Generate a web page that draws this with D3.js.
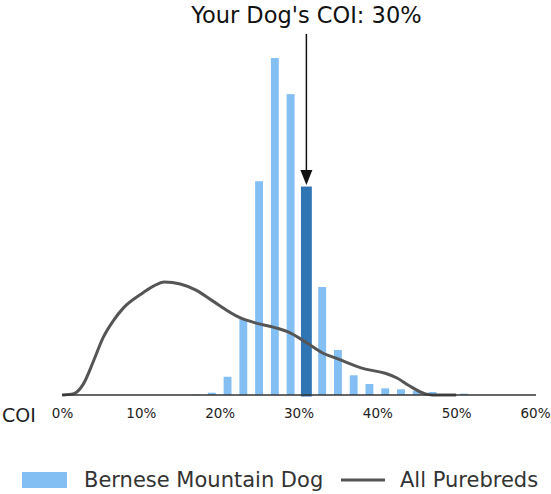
<!DOCTYPE html>
<html>
<head>
<meta charset="utf-8">
<script src="https://cdn.jsdelivr.net/npm/d3@7"></script>
<style>
  body { margin: 0; background: #fff; }
  text { font-family: "DejaVu Sans", sans-serif; }
</style>
</head>
<body>
<div id="chart"></div>
<script>
// bins are 2% wide, value = share of Bernese Mountain Dogs (%)
var binCenters = [17, 19, 21, 23, 25, 27, 29, 31, 33, 35, 37, 39, 41, 43, 45, 47, 49, 51];
var berneseShare = [0.04, 0.17, 1.34, 5.58, 15.7, 24.75, 22.1, 15.2, 7.93, 3.3, 1.45, 0.81, 0.49, 0.42, 0.29, 0.22, 0.07, 0.1];

// all purebreds density curve
var purebredX = [0, 1.5, 2.7, 4, 5.2, 6.5, 7.8, 10, 11.6, 13, 15, 17, 19, 22.5, 24.5, 27, 29, 31, 33, 35, 38.5, 41, 42.5, 44, 46, 47, 50];
var purebredY = [0, 0.1, 0.8, 2.5, 4.2, 5.45, 6.4, 7.4, 8.0, 8.3, 8.15, 7.7, 6.95, 5.7, 5.3, 4.95, 4.55, 3.85, 3.1, 2.65, 1.9, 1.6, 1.25, 0.7, 0.1, 0, 0];

var xTicks = [0, 10, 20, 30, 40, 50, 60];
var yourCOI = 30;
var titleText = "Your Dog's COI: 30%";
var legendLabels = ["Bernese Mountain Dog", "All Purebreds"];

var svgWidth = 551, svgHeight = 494;
var lightBlue = "#84bff4", darkBlue = "#3075b4", lineGrey = "#555555";

var svg = d3.select("#chart").append("svg")
  .attr("width", svgWidth)
  .attr("height", svgHeight);

var xScale = d3.scaleLinear().domain([0, 60]).range([62, 535]);
var yScale = d3.scaleLinear().domain([0, 26]).range([395, 41]);

// bars
var binW = xScale(1) - xScale(0);
var hiBin = binCenters.find(c => yourCOI >= c - 1 && yourCOI < c + 1);

svg.selectAll(".bar")
  .data(binCenters)
  .enter().append("rect")
  .attr("class", "bar")
  .attr("x", d => xScale(d) - binW / 2)
  .attr("width", binW)
  .attr("y", (d, i) => yScale(berneseShare[i]))
  .attr("height", (d, i) => yScale(0) - yScale(berneseShare[i]))
  .attr("fill", d => d === hiBin ? darkBlue : lightBlue)
  .attr("stroke", d => d === hiBin ? darkBlue : "none")
  .attr("stroke-width", 3);

// purebred curve
var line = d3.line()
  .x(d => xScale(d[0]))
  .y(d => yScale(d[1]))
  .curve(d3.curveMonotoneX);

svg.append("path")
  .datum(purebredX.map((x, i) => [x, purebredY[i]]))
  .attr("d", line)
  .attr("fill", "none")
  .attr("stroke", lineGrey)
  .attr("stroke-width", 3);

// x axis
var xAxis = d3.axisBottom(xScale)
  .tickValues(xTicks)
  .tickFormat(d => d + "%")
  .tickSize(0)
  .tickPadding(13);

var axisG = svg.append("g")
  .attr("transform", "translate(0," + yScale(0) + ")")
  .call(xAxis);
axisG.select(".domain").attr("stroke", "#333").attr("stroke-width", 1.5)
  .attr("d", "M" + xScale(0) + ",0H" + (xScale(60) + 1));
axisG.selectAll("text")
  .style("font-family", "DejaVu Sans, sans-serif")
  .style("font-size", "13.5px")
  .attr("fill", "#222");

svg.append("text")
  .attr("x", 2)
  .attr("y", yScale(0) + 27)
  .attr("font-size", 19)
  .attr("fill", "#222")
  .text("COI");

// arrow + title
var hiIdx = binCenters.indexOf(hiBin);
var ax = xScale(hiBin);
var tipY = yScale(berneseShare[hiIdx]) - 3;

svg.append("line")
  .attr("x1", ax).attr("x2", ax)
  .attr("y1", 34).attr("y2", tipY - 12)
  .attr("stroke", "#111")
  .attr("stroke-width", 1.5);
svg.append("path")
  .attr("d", "M" + (ax - 6) + "," + (tipY - 15) + "L" + (ax + 6) + "," + (tipY - 15) + "L" + ax + "," + tipY + "Z")
  .attr("fill", "#111");

svg.append("text")
  .attr("x", ax)
  .attr("y", 23)
  .attr("text-anchor", "middle")
  .attr("font-size", 22.5)
  .attr("fill", "#111")
  .text(titleText);

// legend
var legY = 480;
svg.append("rect")
  .attr("x", 22).attr("y", legY - 8)
  .attr("width", 45).attr("height", 16)
  .attr("fill", lightBlue);
svg.append("text")
  .attr("x", 84).attr("y", legY + 7)
  .attr("font-size", 21)
  .attr("fill", "#333")
  .text(legendLabels[0]);
svg.append("line")
  .attr("x1", 341).attr("x2", 385)
  .attr("y1", legY).attr("y2", legY)
  .attr("stroke", lineGrey)
  .attr("stroke-width", 3);
svg.append("text")
  .attr("x", 400).attr("y", legY + 7)
  .attr("font-size", 21)
  .attr("fill", "#333")
  .text(legendLabels[1]);
</script>
</body>
</html>
